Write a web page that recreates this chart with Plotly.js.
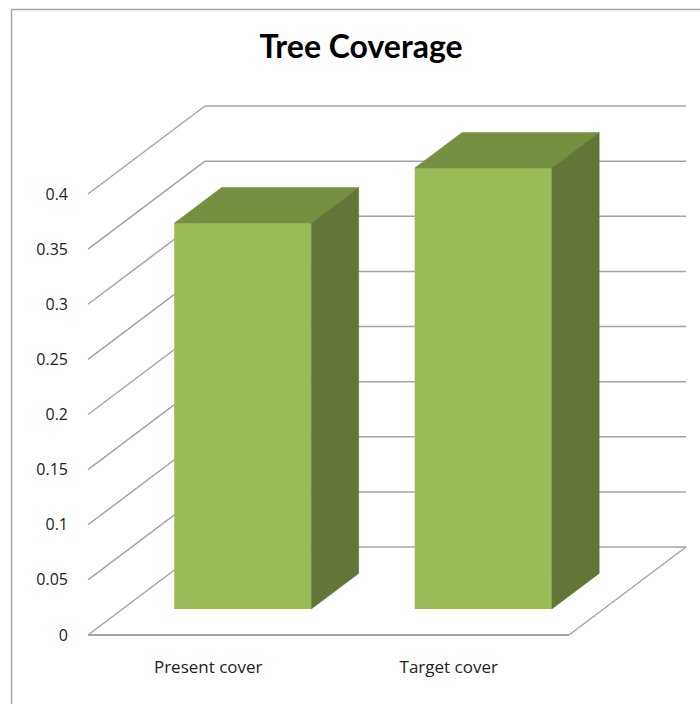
<!DOCTYPE html>
<html>
<head>
<meta charset="utf-8">
<script src="https://cdn.plot.ly/plotly-3.0.1.min.js"></script>
<style>html,body{margin:0;padding:0;background:#fff}#chart{width:700px;height:704px}</style>
</head>
<body>
<div id="chart"></div>
<script>
var categories = ["Present cover", "Target cover"];
var treeCover = [0.35, 0.4];
var valueTicks = [0, 0.05, 0.1, 0.15, 0.2, 0.25, 0.3, 0.35, 0.4];
var valueTickLabels = ["0", "0.05", "0.1", "0.15", "0.2", "0.25", "0.3", "0.35", "0.4"];

// Scale of the oblique drawing
var pxPerCategory = 240.5, pxPerValue = 1102.5;
var depthX = 117 / pxPerCategory, depthY = 88 / pxPerValue;   // one full floor depth
var barFront = 0.295, barBack = 0.70, barWidth = 0.57;
var W = 700, H = 704, L = 76, R = 10, T = 95, B = 54;
var xMin = -0.5 + (L - 88) / pxPerCategory, xMax = -0.5 + (W - R - 88) / pxPerCategory;
var yMin = (635 - (H - B)) / pxPerValue, yMax = (635 - T) / pxPerValue;

var gridColor = "#a4a4a4", frameColor = "#a6a6a6";
var frontColor = "#9bbb59", topColor = "#778f41", sideColor = "#647538";

function proj(x, v, d) { return [x + d * depthX, v + d * depthY]; }
function line(a, b, w) {
  return {type: "line", xref: "x", yref: "y", layer: "below",
    x0: a[0], y0: a[1], x1: b[0], y1: b[1], line: {color: gridColor, width: w || 1.5}};
}
function poly(pts, color) {
  return {type: "scatter", mode: "lines", fill: "toself", fillcolor: color,
    x: pts.map(function (p) { return p[0]; }), y: pts.map(function (p) { return p[1]; }),
    line: {color: color, width: 0.5}, hoverinfo: "skip", showlegend: false};
}

var shapes = [];
valueTicks.forEach(function (v) {
  shapes.push(line(proj(-0.5, v, 0), proj(-0.5, v, 1)));
  shapes.push(line(proj(-0.5, v, 1), proj(1.5, v, 1)));
});
shapes.push(line(proj(-0.5, 0, 0), proj(1.5, 0, 0), 2.2));
shapes.push(line(proj(1.5, 0, 0), proj(1.5, 0, 1)));
// chart-area frame, open to the right and bottom as in the crop
var fx = function (px) { return (px - L) / (W - L - R); };
var fy = function (py) { return 1 - (py - T) / (H - T - B); };
shapes.push({type: "line", xref: "paper", yref: "paper", x0: fx(11.5), x1: fx(700), y0: fy(9.5), y1: fy(9.5), line: {color: frameColor, width: 1.5}});
shapes.push({type: "line", xref: "paper", yref: "paper", x0: fx(11.5), x1: fx(11.5), y0: fy(9.5), y1: fy(704), line: {color: frameColor, width: 1.5}});

var baseVal = barFront * depthY;
var shift = barFront * depthX;
var traces = [{
  type: "bar",
  x: categories.map(function (c, i) { return i + shift; }),
  y: treeCover,
  base: treeCover.map(function () { return baseVal; }),
  width: barWidth,
  marker: {color: frontColor, line: {width: 0}},
  hoverinfo: "skip", showlegend: false
}];
treeCover.forEach(function (v, i) {
  var l = i - barWidth / 2, r = i + barWidth / 2;
  traces.push(poly([proj(l, v, barFront), proj(r, v, barFront), proj(r, v, barBack), proj(l, v, barBack), proj(l, v, barFront)], topColor));
  traces.push(poly([proj(r, 0, barFront), proj(r, 0, barBack), proj(r, v, barBack), proj(r, v, barFront), proj(r, 0, barFront)], sideColor));
});

var layout = {
  width: W, height: H, autosize: false,
  margin: {l: L, r: R, t: T, b: B, pad: 0},
  paper_bgcolor: "#ffffff", plot_bgcolor: "rgba(0,0,0,0)",
  title: {text: "Tree Coverage", x: 361 / W, xref: "container", xanchor: "center", y: 1 - 47 / H, yref: "container", yanchor: "middle",
    font: {family: "Lato", size: 32, color: "#000000", weight: 700}},
  showlegend: false,
  xaxis: {range: [xMin, xMax], tickmode: "array", tickvals: categories.map(function (c, i) { return i; }), ticktext: categories,
    showgrid: false, zeroline: false, showline: false, ticks: "", tickangle: 0, ticklabelstandoff: 5,
    tickfont: {family: "Open Sans", size: 17, color: "#222222"}, fixedrange: true},
  yaxis: {range: [yMin, yMax], tickmode: "array", tickvals: valueTicks, ticktext: valueTickLabels,
    showgrid: false, zeroline: false, showline: false, ticks: "", ticklabelstandoff: 7,
    tickfont: {family: "Open Sans", size: 16, color: "#222222"}, fixedrange: true},
  shapes: shapes
};
Plotly.newPlot("chart", traces, layout, {displayModeBar: false, staticPlot: true});
</script>
</body>
</html>
